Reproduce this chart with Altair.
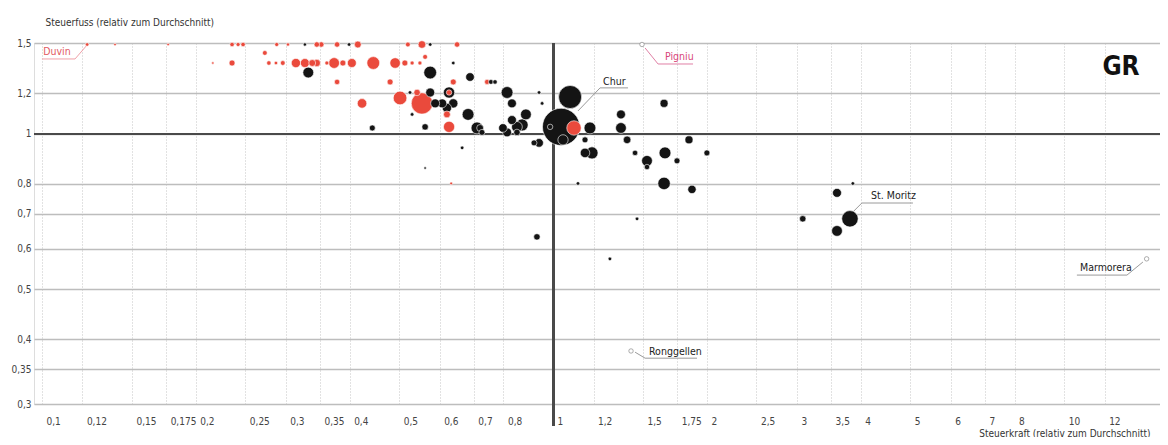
import altair as alt
import pandas as pd

# --- data (Steuerkraft, Steuerfuss, Einwohner, Gruppe) ---
steuerkraft = [
    0.1226, 0.139, 0.1766, 0.2355, 0.242, 0.2475, 0.288, 0.303, 0.327, 0.345, 0.352, 0.378, 0.399, 0.415,
    0.520, 0.554, 0.575, 0.649, 0.273, 0.562,
    0.216, 0.2355, 0.278, 0.287, 0.296, 0.314, 0.327, 0.338, 0.345, 0.361, 0.373, 0.388, 0.404, 0.445,
    0.491, 0.513, 0.530, 0.549, 0.638,
    0.332, 0.575, 0.688, 0.378, 0.480, 0.638, 0.743, 0.756, 0.770,
    0.813, 0.939, 0.525, 0.542, 0.575, 0.626, 0.626, 0.502, 0.554, 0.423, 0.952, 0.588, 0.607, 0.638,
    0.620, 0.831, 0.831, 0.620, 0.530, 0.682, 0.885, 0.443, 0.562, 0.626, 0.710, 0.720, 0.726, 0.798,
    0.813, 0.850, 0.870, 0.850, 0.918, 0.939, 0.987, 1.037, 1.046, 1.099, 1.080,
    1.181, 1.155, 1.155, 1.192, 1.358, 1.358, 1.396, 1.447, 1.527, 1.527, 1.649, 1.656, 1.748, 1.845,
    2.0, 1.649, 1.870, 1.119, 1.460, 1.292, 0.930, 3.08, 3.594, 3.86, 3.81, 3.594, 0.664, 0.562, 0.632,
    1.493, 1.421, 14.5,
]
steuerfuss = [
    1.49, 1.49, 1.49, 1.49, 1.49, 1.49, 1.49, 1.49, 1.49, 1.49, 1.49, 1.49, 1.49, 1.49,
    1.49, 1.49, 1.49, 1.49, 1.435, 1.41,
    1.372, 1.372, 1.372, 1.372, 1.372, 1.372, 1.372, 1.372, 1.372, 1.372, 1.372, 1.372, 1.372, 1.372,
    1.372, 1.372, 1.372, 1.372, 1.372,
    1.315, 1.315, 1.289, 1.261, 1.261, 1.261, 1.261, 1.261, 1.261,
    1.203, 1.203, 1.203, 1.203, 1.203, 1.203, 1.203, 1.174, 1.146, 1.146, 1.146, 1.146, 1.146, 1.146,
    1.123, 1.146, 1.064, 1.091, 1.091, 1.091, 1.091, 1.027, 1.032, 1.032, 1.027, 1.027, 1.007, 1.027,
    1.007, 1.032, 1.041, 1.007, 0.961, 0.961, 1.032, 1.032, 0.974, 1.027, 1.179,
    1.027, 0.974, 0.919, 0.919, 1.091, 1.027, 0.974, 0.919, 0.887, 0.863, 1.146, 0.919, 0.887, 0.974,
    0.919, 0.802, 0.781, 0.802, 0.685, 0.573, 0.632, 0.685, 0.769, 0.802, 0.685, 0.649, 0.940, 0.859, 0.802,
    1.49, 0.380, 0.573,
]
einwohner = [
    150, 60, 60, 250, 200, 250, 200, 120, 120, 400, 400, 400, 150, 700,
    300, 900, 150, 400, 300, 300,
    60, 500, 250, 150, 300, 1400, 1300, 700, 800, 200, 2000, 500, 1300, 3000,
    1900, 500, 200, 200, 150,
    2000, 3000, 1200, 400, 500, 500, 350, 300, 250,
    2500, 150, 150, 600, 1300, 2200, 400, 3500, 10000, 1500, 150, 1300, 1300, 1400,
    1400, 1300, 1300, 700, 150, 2500, 2000, 500, 600, 2200, 2500, 700, 500, 1200,
    1300, 2000, 2600, 600, 500, 1200, 400, 37000, 1800, 4000, 12000,
    2500, 500, 1500, 2600, 1300, 2000, 900, 400, 2000, 400, 1000, 2500, 500, 1000,
    500, 2800, 1100, 150, 150, 150, 600, 600, 1300, 150, 5400, 2000, 150, 60, 80,
    250, 250, 250,
]
gruppe = (
    ["r", "r", "r", "r", "r", "r", "r", "r", "b", "r", "r", "r", "b", "r"]
    + ["r", "r", "b", "r", "r", "r"]
    + ["r"] * 14
    + ["r", "r", "r", "r", "b"]
    + ["b", "b", "b", "r", "r", "r", "r", "b", "b"]
    + ["b", "b", "b", "r", "b", "b", "r", "r", "r", "r", "b", "b", "b", "b"]
    + ["b", "b", "b", "r", "b", "b", "b", "b", "b", "r", "b", "b", "b", "b"]
    + ["b", "b", "b", "b", "b", "b", "b", "b", "b", "r", "b"]
    + ["b"] * 14
    + ["b"] * 14 + ["r"]
    + ["h", "h", "h"]
)

x_ticks = [0.1, 0.12, 0.15, 0.175, 0.2, 0.25, 0.3, 0.35, 0.4, 0.5, 0.6, 0.7, 0.8, 1,
           1.2, 1.5, 1.75, 2, 2.5, 3, 3.5, 4, 5, 6, 7, 8, 10, 12]
y_ticks = [0.3, 0.35, 0.4, 0.5, 0.6, 0.7, 0.8, 1, 1.2, 1.5]

# annotation labels
lab_text = ["Duvin", "Pigniu", "Chur", "St. Moritz", "Marmorera", "Ronggellen"]
lab_x = [0.1006, 1.656, 1.253, 4.19, 10.74, 1.541]
lab_y = [1.441, 1.41, 1.261, 0.7585, 0.550, 0.378]
lab_col = ["#e2595f", "#d8457a", "#222222", "#222222", "#222222", "#222222"]

# leader lines (underline + connector) per label
lead_id = ["Duvin"] * 3 + ["Pigniu"] * 3 + ["Chur"] * 3 + ["St. Moritz"] * 3 + ["Marmorera"] * 3 + ["Ronggellen"] * 3
lead_x = [0.100, 0.1161, 0.1226, 1.879, 1.605, 1.514, 1.402, 1.236, 1.119,
          5.06, 4.02, 3.86, 10.59, 13.27, 14.26, 1.913, 1.514, 1.447]
lead_y = [1.397, 1.397, 1.487, 1.366, 1.366, 1.467, 1.228, 1.228, 1.108,
          0.735, 0.735, 0.706, 0.533, 0.533, 0.565, 0.368, 0.368, 0.378]
lead_col = ["#f0a0a8"] * 3 + ["#e07fa5"] * 3 + ["#9a9a9a"] * 12

FONT = "Liberation Sans Narrow, DejaVu Sans Condensed, Roboto, sans-serif"

pts = pd.DataFrame({"x": steuerkraft, "y": steuerfuss, "pop": einwohner, "g": gruppe})
pts = pts.sort_values("pop", ascending=False).reset_index(drop=True)
labs = pd.DataFrame({"x": lab_x, "y": lab_y, "t": lab_text, "c": lab_col})
leads = pd.DataFrame({"x": lead_x, "y": lead_y, "id": lead_id, "c": lead_col,
                      "o": list(range(len(lead_x)))})
gr = pd.DataFrame({"x": [12.92], "y": [1.348], "t": ["GR"]})

W, H = 1126, 361
xscale = alt.Scale(type="log", domain=[0.0965, 15.4], nice=False, zero=False)
yscale = alt.Scale(type="log", domain=[0.3, 1.5], nice=False, zero=False)

xaxis = alt.Axis(values=x_ticks, grid=True, gridDash=[1, 2], gridColor="#c4c4c4", gridWidth=1,
                 domain=False, ticks=False, labelAlign="left", labelOffset=4, labelPadding=12,
                 labelFontSize=10, labelColor="#444", labelFont=FONT,
                 labelExpr="replace('' + datum.value, '.', ',')",
                 title="Steuerkraft (relativ zum Durchschnitt)", titleFont=FONT, titleFontSize=10,
                 titleFontWeight="normal", titleColor="#333", titleAlign="right", titleAnchor="end",
                 titleX=1116, titleY=29, titleBaseline="middle")
yaxis = alt.Axis(values=y_ticks, grid=True, gridColor="#bdbdbd", gridWidth=1.5,
                 domain=False, ticks=False, labelPadding=3, labelFontSize=10, labelColor="#444",
                 labelFont=FONT, labelExpr="replace('' + datum.value, '.', ',')",
                 title="Steuerfuss (relativ zum Durchschnitt)", titleFont=FONT, titleFontSize=10,
                 titleFontWeight="normal", titleColor="#333", titleAngle=0, titleAlign="left",
                 titleX=11, titleY=-21, titleBaseline="middle")

X = alt.X("x:Q", scale=xscale, axis=xaxis)
Y = alt.Y("y:Q", scale=yscale, axis=yaxis)

vline = alt.Chart(pts).mark_rule(color="#4a4a4a", strokeWidth=2).encode(
    x=alt.XDatum(1, scale=xscale, axis=xaxis), y=alt.value(0), y2=alt.value(H + 22))
hline = alt.Chart(pts).mark_rule(color="#4a4a4a", strokeWidth=2).encode(
    y=alt.YDatum(1, scale=yscale, axis=yaxis))

points = alt.Chart(pts).mark_circle(opacity=1, strokeWidth=0.6).encode(
    x=X, y=Y,
    size=alt.Size("pop:Q", scale=alt.Scale(type="pow", exponent=0.85, domain=[0, 37000], range=[0, 1385]), legend=None),
    color=alt.Color("g:N", scale=alt.Scale(domain=["r", "b", "h"], range=["#ea4a3c", "#141414", "#ffffff"]), legend=None),
    stroke=alt.Stroke("g:N", scale=alt.Scale(domain=["r", "b", "h"], range=["#ffffff", "#ffffff", "#777777"]), legend=None),
    order=alt.Order("pop:Q", sort="descending"),
)

lines = alt.Chart(leads).mark_line(strokeWidth=1).encode(
    x=X, y=Y, detail="id:N", order="o:Q", color=alt.Color("c:N", scale=None))

texts = alt.Chart(labs).mark_text(align="left", baseline="middle", font=FONT, fontSize=10.5).encode(
    x=X, y=Y, text="t:N", color=alt.Color("c:N", scale=None))

grtext = alt.Chart(gr).mark_text(align="center", baseline="middle", font=FONT, fontSize=26,
                                 fontWeight="bold", color="#111").encode(
    x=X, y=Y, text="t:N")

chart = alt.layer(hline, vline, lines, points, texts, grtext).properties(
    width=W, height=H,
    autosize=alt.AutoSizeParams(type="none"),
    padding={"left": 26, "top": 35, "right": 0, "bottom": 33},
).configure_view(stroke=None).configure(background="#ffffff")

chart.save("out.html", embed_options={"renderer": "svg", "actions": False})
